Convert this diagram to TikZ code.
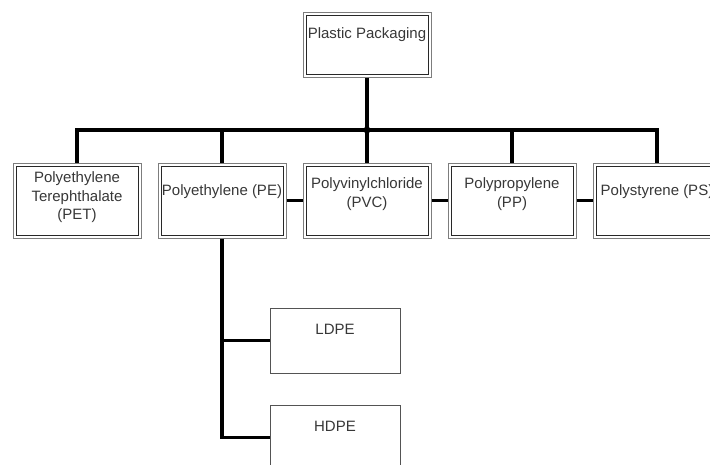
\documentclass[tikz,border=0pt]{standalone}
\usepackage{fontspec}
\setmainfont{Liberation Sans}
\usetikzlibrary{positioning}
\definecolor{frameGray}{RGB}{125,125,125}
\definecolor{innerGray}{RGB}{40,40,40}
\definecolor{textGray}{RGB}{55,55,55}

\tikzset{
  dbox/.style={draw=frameGray, line width=1pt, minimum width=128pt, minimum height=75pt, inner sep=0pt,
    path picture={\draw[innerGray, line width=0.8pt]
      ([shift={(3pt,-3pt)}]path picture bounding box.north west) rectangle
      ([shift={(-3pt,3pt)}]path picture bounding box.south east);}},
  sbox/.style={draw=innerGray!80, line width=1pt, minimum width=130pt, minimum height=65pt, inner sep=0pt},
  lbl/.style={font=\fontsize{15}{18.5}\selectfont, text=textGray, align=center, inner sep=0pt},
  conn/.style={line width=3.5pt}
}

\begin{document}
\begin{tikzpicture}[x=1pt, y=-1pt]
\useasboundingbox (0,0) rectangle (710,464);
\clip (0,0) rectangle (710,464);

% Top level
\node[dbox, minimum height=65pt] (top) at (367,44.5) {};
\node[lbl, below=16pt of top.north] (top-t) {Plastic Packaging};

% Second level
\node[dbox] (pet) at (77,200.5) {};
\node[dbox] (pe) at (222,200.5) {};
\node[dbox] (pvc) at (367,200.5) {};
\node[dbox] (pp) at (512,200.5) {};
\node[dbox] (ps) at (657,200.5) {};

\node[lbl, below=9pt of pet.north] (pet-t) {Polyethylene\\Terephthalate\\(PET)};
\node[lbl, below=22pt of pe.north] (pe-t) {Polyethylene (PE)};
\node[lbl, below=15pt of pvc.north] (pvc-t) {Polyvinylchloride\\(PVC)};
\node[lbl, below=15pt of pp.north] (pp-t) {Polypropylene\\(PP)};
\node[lbl, below=22pt of ps.north] (ps-t) {Polystyrene (PS)};

% Third level
\node[sbox] (ldpe) at (335,340.5) {};
\node[sbox] (hdpe) at (335,437.5) {};
\node[lbl, below=16pt of ldpe.north] (ldpe-t) {LDPE};
\node[lbl, below=16pt of hdpe.north] (hdpe-t) {HDPE};

% Connections
\coordinate (hub) at (367,130);
\draw[conn] (top) -- (hub);
\foreach \b in {pet,pe,pvc,pp,ps}
  \draw[conn] (hub) -| (\b.north);
\fill (hub) circle (3.5pt);

\draw[conn] (pe) -- (pvc);
\draw[conn] (pvc) -- (pp);
\draw[conn] (pp) -- (ps);

\draw[conn] (pe.south) |- (hdpe.west);
\draw[conn] (pe.south |- ldpe.west) -- (ldpe.west);
\end{tikzpicture}
\end{document}
